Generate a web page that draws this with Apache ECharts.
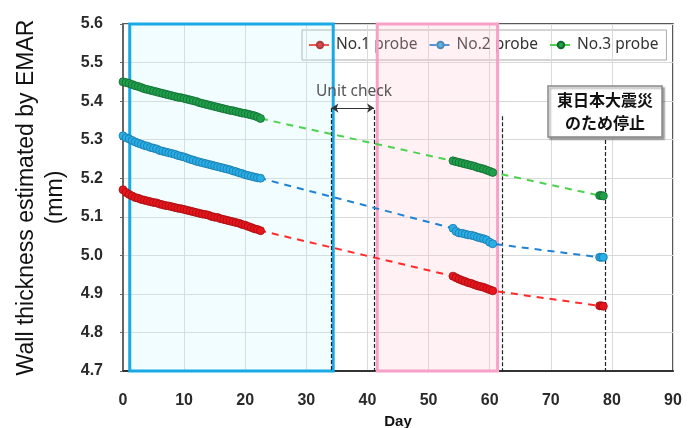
<!DOCTYPE html>
<html><head><meta charset="utf-8">
<script src="https://cdn.jsdelivr.net/npm/echarts@6/dist/echarts.min.js"></script>
<style>html,body{margin:0;padding:0;background:#fff}#c{width:697px;height:428px}</style>
</head><body><div id="c"></div>
<script>
// Day values for each measurement run
const daysA = [0,0.5,1,1.5,2,2.5,3,3.5,4,4.5,5,5.5,6,6.5,7,7.5,8,8.5,9,9.5,10,10.5,11,11.5,12,12.5,13,13.5,14,14.5,15,15.5,16,16.5,17,17.5,18,18.5,19,19.5,20,20.5,21,21.5,22,22.5];
const daysB = [54,54.5,55,55.5,56,56.5,57,57.5,58,58.5,59,59.5,60,60.5];
const daysC = [78,78.3,78.6];

// No.1 probe (mm)
const probe1A = [5.170,5.163,5.158,5.154,5.150,5.148,5.145,5.143,5.141,5.139,5.137,5.136,5.133,5.131,5.129,5.128,5.126,5.124,5.122,5.121,5.119,5.117,5.115,5.113,5.111,5.109,5.107,5.106,5.104,5.101,5.099,5.098,5.095,5.093,5.091,5.089,5.087,5.085,5.083,5.080,5.078,5.075,5.072,5.069,5.067,5.064];
const probe1B = [4.946,4.942,4.938,4.935,4.932,4.929,4.927,4.924,4.921,4.919,4.917,4.914,4.911,4.908];
const probe1C = [4.869,4.869,4.868];

// No.2 probe (mm)
const probe2A = [5.310,5.305,5.302,5.298,5.294,5.291,5.288,5.285,5.283,5.280,5.278,5.276,5.272,5.270,5.268,5.266,5.264,5.262,5.259,5.257,5.255,5.252,5.249,5.247,5.244,5.242,5.240,5.238,5.236,5.234,5.232,5.230,5.228,5.226,5.224,5.222,5.219,5.217,5.214,5.212,5.209,5.207,5.205,5.203,5.201,5.200];
const probe2B = [5.070,5.062,5.058,5.057,5.055,5.053,5.052,5.050,5.047,5.045,5.043,5.040,5.034,5.030];
const probe2C = [4.995,4.995,4.995];

// No.3 probe (mm)
const probe3A = [5.450,5.448,5.446,5.443,5.440,5.438,5.435,5.432,5.430,5.428,5.426,5.424,5.422,5.420,5.418,5.416,5.414,5.412,5.410,5.409,5.407,5.405,5.403,5.401,5.399,5.396,5.394,5.392,5.390,5.388,5.386,5.384,5.382,5.380,5.378,5.376,5.375,5.373,5.371,5.369,5.368,5.366,5.364,5.362,5.359,5.355];
const probe3B = [5.245,5.243,5.241,5.239,5.237,5.235,5.233,5.231,5.228,5.226,5.224,5.221,5.218,5.215];
const probe3C = [5.155,5.155,5.154];

const seriesNames = ['No.1 probe','No.2 probe','No.3 probe'];

// Annotation regions / lines (day, mm)
const blueBox = [1.1, 34.4];
const pinkBox = [41.6, 61.3];
const dashLines = [[34.1, 5.382],[41.1, 5.377],[62.1, 5.361],[78.9, 5.299]];
const unitArrow = [34.1, 41.1, 5.382];

function pairs(ds, vs){ return ds.map((d,i)=>[d, vs[i]]); }
function build(a,b,c,da,db,dc){ return pairs(da,a).concat(pairs(db,b), pairs(dc,c)); }

const chart = echarts.init(document.getElementById('c'));
const tickFont = {fontFamily:'Liberation Sans, Arial, sans-serif', fontSize:16, fontWeight:'bold', color:'#2a2a2a'};

function mkSeries(name, data, fill, border, lineColor, extra){
  return Object.assign({
    name, type:'line', data,
    symbol:'circle', symbolSize:8, showSymbol:true,
    itemStyle:{color:fill, borderColor:border, borderWidth:0.8},
    lineStyle:{color:lineColor, width:2, type:[7,6]},
    z:4, animation:false
  }, extra||{});
}

const option = {
  animation:false,
  backgroundColor:'#fff',
  grid:{left:123, width:550, top:24, height:347, show:true, borderColor:'#222', borderWidth:1.5, backgroundColor:'#fff', outerBoundsMode:'none', containLabel:false},
  legend:{
    left:302, top:30, padding:[7,8,7,6], itemGap:11, itemWidth:22, itemHeight:8,
    backgroundColor:'#fff', borderColor:'#aaa', borderWidth:1, z:0,
    textStyle:{fontFamily:'Noto Sans, sans-serif', fontSize:15.5, color:'#333'},
    data:seriesNames
  },
  xAxis:{
    type:'value', min:0, max:90, interval:10,
    name:'Day', nameLocation:'middle', nameGap:43,
    nameTextStyle:{fontFamily:'Liberation Sans, Arial, sans-serif', fontSize:15, fontWeight:'bold', color:'#111'},
    axisLine:{show:true, onZero:false, lineStyle:{color:'#333', width:2}},
    axisTick:{show:false},
    axisLabel:Object.assign({margin:22}, tickFont),
    splitLine:{show:true, lineStyle:{color:'#d9d9d9', width:1}}
  },
  yAxis:{
    type:'value', min:4.7, max:5.6, interval:0.1,
    name:'Wall thickness estimated by EMAR\n(mm)', nameLocation:'middle', nameRotate:90, nameGap:48,
    nameTextStyle:{fontFamily:'Liberation Sans, Arial, sans-serif', fontSize:23, color:'#111', lineHeight:29},
    axisLine:{show:true, lineStyle:{color:'#666', width:2}},
    axisTick:{show:true, length:3, lineStyle:{color:'#666'}},
    axisLabel:Object.assign({margin:20, formatter:v=>v.toFixed(1)}, tickFont),
    splitLine:{show:true, lineStyle:{color:'#d9d9d9', width:1}}
  },
  series:[
    mkSeries(seriesNames[0], build(probe1A,probe1B,probe1C,daysA,daysB,daysC), '#e8161c', '#a00c10', '#ff2a2a', {
      markArea:{
        silent:true, z:2,
        data:[
          [{xAxis:blueBox[0], yAxis:5.6, itemStyle:{color:'rgba(190,245,252,0.22)', borderColor:'#19a9e5', borderWidth:3}},{xAxis:blueBox[1], yAxis:4.7}],
          [{xAxis:pinkBox[0], yAxis:5.6, itemStyle:{color:'rgba(255,200,210,0.25)', borderColor:'#f7a1c8', borderWidth:3}},{xAxis:pinkBox[1], yAxis:4.7}]
        ]
      },
      markLine:{
        silent:true, symbol:['none','none'], label:{show:false}, z:3,
        lineStyle:{color:'#222', type:[4,2], width:1.2},
        data: dashLines.map(p=>[{coord:[p[0],p[1]]},{coord:[p[0],4.7]}]).concat([
          [{coord:[unitArrow[0],unitArrow[2]], symbol:'arrow', lineStyle:{type:'solid', color:'#333', width:1}},
           {coord:[unitArrow[1],unitArrow[2]], symbol:'arrow'}]
        ]),
        symbolSize:7
      }
    }),
    mkSeries(seriesNames[1], build(probe2A,probe2B,probe2C,daysA,daysB,daysC), '#2aaee6', '#1577a8', '#1f82d6'),
    mkSeries(seriesNames[2], build(probe3A,probe3B,probe3C,daysA,daysB,daysC), '#20a04c', '#0f6a2e', '#4cd24c')
  ],
  graphic:[
    {type:'text', x:354, y:92, style:{text:'Unit check', fontFamily:'Noto Sans, sans-serif', fontSize:15.5, fill:'#555', align:'center', verticalAlign:'middle'}, z:10},
    {type:'rect', shape:{x:548, y:86, width:114, height:51}, style:{fill:'#fff', stroke:'#888', lineWidth:1.5, shadowBlur:2, shadowOffsetX:2, shadowOffsetY:2, shadowColor:'rgba(0,0,0,0.35)'}, z:10},
    {type:'text', x:605, y:100, style:{text:'東日本大震災', fontFamily:'Noto Sans CJK JP', fontSize:16, fontWeight:'bold', fill:'#111', align:'center', verticalAlign:'middle'}, z:11},
    {type:'text', x:605, y:123, style:{text:'のため停止', fontFamily:'Noto Sans CJK JP', fontSize:16, fontWeight:'bold', fill:'#111', align:'center', verticalAlign:'middle'}, z:11}
  ]
};
chart.setOption(option);
</script>
</body></html>
